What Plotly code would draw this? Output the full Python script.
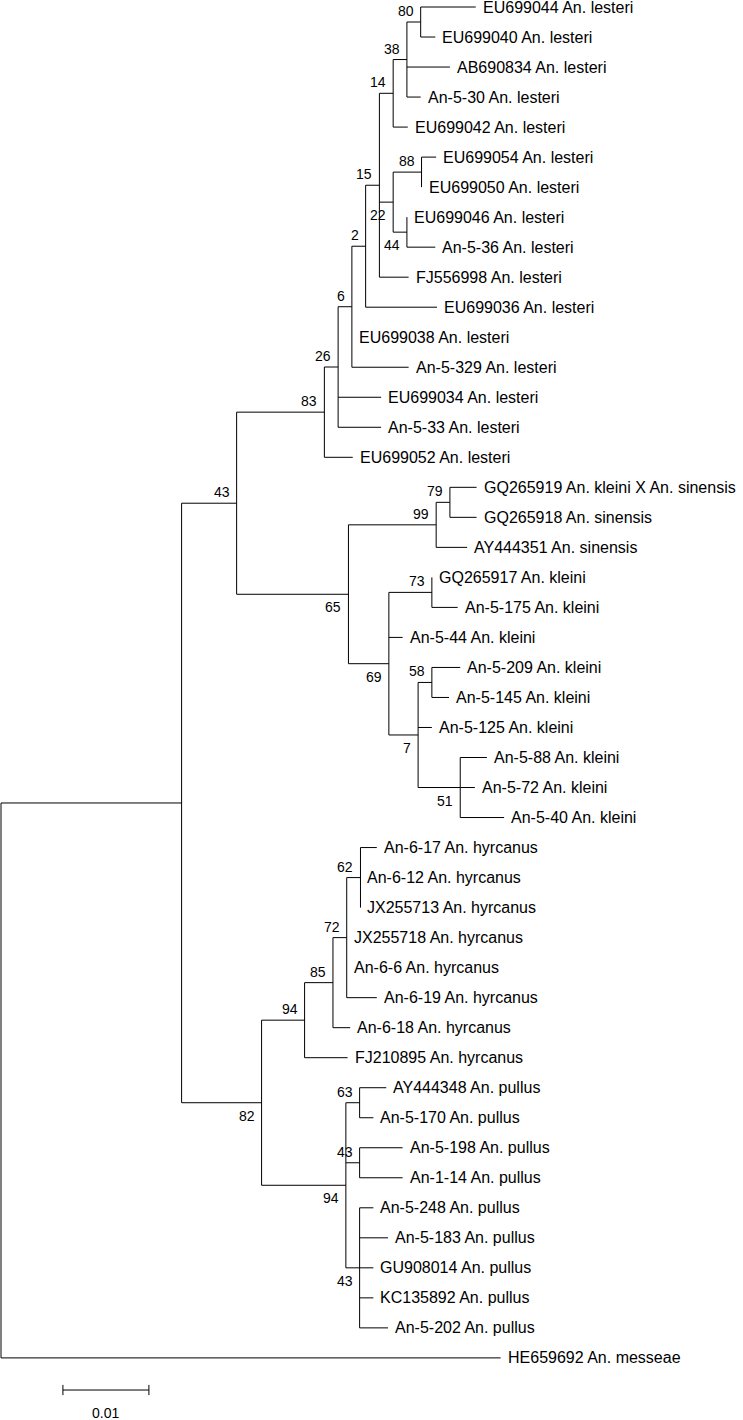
import plotly.graph_objects as go

# leaves, top to bottom
leaf_names = [
    'EU699044 An. lesteri', 'EU699040 An. lesteri', 'AB690834 An. lesteri', 'An-5-30 An. lesteri',
    'EU699042 An. lesteri', 'EU699054 An. lesteri', 'EU699050 An. lesteri', 'EU699046 An. lesteri',
    'An-5-36 An. lesteri', 'FJ556998 An. lesteri', 'EU699036 An. lesteri', 'EU699038 An. lesteri',
    'An-5-329 An. lesteri', 'EU699034 An. lesteri', 'An-5-33 An. lesteri', 'EU699052 An. lesteri',
    'GQ265919 An. kleini X An. sinensis', 'GQ265918 An. sinensis', 'AY444351 An. sinensis',
    'GQ265917 An. kleini', 'An-5-175 An. kleini', 'An-5-44 An. kleini', 'An-5-209 An. kleini',
    'An-5-145 An. kleini', 'An-5-125 An. kleini', 'An-5-88 An. kleini', 'An-5-72 An. kleini',
    'An-5-40 An. kleini', 'An-6-17 An. hyrcanus', 'An-6-12 An. hyrcanus', 'JX255713 An. hyrcanus',
    'JX255718 An. hyrcanus', 'An-6-6 An. hyrcanus', 'An-6-19 An. hyrcanus', 'An-6-18 An. hyrcanus',
    'FJ210895 An. hyrcanus', 'AY444348 An. pullus', 'An-5-170 An. pullus', 'An-5-198 An. pullus',
    'An-1-14 An. pullus', 'An-5-248 An. pullus', 'An-5-183 An. pullus', 'GU908014 An. pullus',
    'KC135892 An. pullus', 'An-5-202 An. pullus', 'HE659692 An. messeae',
]
leaf_parent = [
    'n80', 'n80', 'n38', 'n38', 'n14', 'n88', 'n88', 'n44', 'n44', 'g', 'f', 'e', 'e', 'd', 'd', 'c',
    'n79', 'n79', 'n99', 'n73', 'n73', 'n69', 'n58', 'n58', 'n7', 'n51', 'n51', 'n51',
    'n62', 'n62', 'n62', 'n72', 'n72', 'n72', 'n85', 'n94a',
    'n63', 'n63', 'n43a', 'n43a', 'n43b', 'n43b', 'n43b', 'n43b', 'n43b', 'root',
]
leaf_len = [
    0.0064, 0.0017, 0.0050, 0.0016, 0.0017, 0.0017, 0.0, 0.0, 0.0033, 0.0034, 0.0083, 0.0,
    0.0066, 0.0050, 0.0050, 0.0033, 0.0031, 0.0031, 0.0036, 0.0, 0.0030, 0.0016, 0.0033,
    0.0020, 0.0016, 0.0031, 0.0017, 0.0051, 0.0019, 0.0, 0.0, 0.0, 0.0, 0.0035, 0.0020,
    0.0050, 0.0031, 0.0016, 0.0050, 0.0050, 0.0016, 0.0033, 0.0016, 0.0016, 0.0033, 0.0581,
]

# internal nodes, parents before children
node_ids = ['root', 'a', 'b', 'c', 'd', 'e', 'f', 'g', 'n14', 'n38', 'n80', 'n22', 'n88', 'n44',
            'k', 'n99', 'n79', 'n69', 'n73', 'n7', 'n58', 'n51',
            'h', 'n94a', 'n85', 'n72', 'n62', 'n94b', 'n63', 'n43a', 'n43b']
node_parent = [None, 'root', 'a', 'b', 'c', 'd', 'e', 'f', 'g', 'n14', 'n38', 'g', 'n22', 'n22',
               'b', 'k', 'n99', 'k', 'n69', 'n69', 'n7', 'n7',
               'a', 'h', 'n94a', 'n85', 'n72', 'h', 'n94b', 'n94b', 'n94b']
node_len = [0.0, 0.0210, 0.0064, 0.0102, 0.0016, 0.0016, 0.0016, 0.0016, 0.0016, 0.0016, 0.0016,
            0.0016, 0.0033, 0.0016, 0.0130, 0.0102, 0.0016, 0.0047, 0.0050, 0.0034, 0.0016, 0.0049,
            0.0093, 0.0050, 0.0033, 0.0016, 0.0016, 0.0098, 0.0016, 0.0016, 0.0016]
node_support = ['', '', '43', '83', '26', '6', '2', '15', '14', '38', '80', '22', '88', '44',
                '65', '99', '79', '69', '73', '7', '58', '51',
                '82', '94', '85', '72', '62', '94', '63', '43', '43']

scale_x0 = 0.0072
scale_len = 0.01
scale_label = '0.01'

FONT = 'Liberation Sans, Arial, sans-serif'

# node depths
nx = {}
for nid, par, bl in zip(node_ids, node_parent, node_len):
    nx[nid] = (nx[par] if par else 0.0) + bl

leaf_x = [nx[p] + bl for p, bl in zip(leaf_parent, leaf_len)]
leaf_y = list(range(len(leaf_names)))

# node y = middle of first and last child
kids = {nid: [] for nid in node_ids}
for y, p in zip(leaf_y, leaf_parent):
    kids[p].append(y)
ny = {}
for nid, par in reversed(list(zip(node_ids, node_parent))):
    ny[nid] = (min(kids[nid]) + max(kids[nid])) / 2
    if par:
        kids[par].append(ny[nid])

xs, ys = [], []
# vertical lines at nodes
for nid in node_ids:
    xs += [nx[nid], nx[nid], None]
    ys += [min(kids[nid]), max(kids[nid]), None]
# horizontal branches to nodes
for nid, par in zip(node_ids, node_parent):
    if par:
        xs += [nx[par], nx[nid], None]
        ys += [ny[nid], ny[nid], None]
# horizontal branches to leaves
for p, x, y in zip(leaf_parent, leaf_x, leaf_y):
    if x > nx[p]:
        xs += [nx[p], x, None]
        ys += [y, y, None]

fig = go.Figure()
fig.add_trace(go.Scatter(x=xs, y=ys, mode='lines', line=dict(color='black', width=1),
                         hoverinfo='skip', showlegend=False))

# scale bar
sb_y = 46.07
tick = 0.17
fig.add_trace(go.Scatter(
    x=[scale_x0, scale_x0 + scale_len, None, scale_x0, scale_x0, None,
       scale_x0 + scale_len, scale_x0 + scale_len],
    y=[sb_y, sb_y, None, sb_y - tick, sb_y + tick, None, sb_y - tick, sb_y + tick],
    mode='lines', line=dict(color='black', width=1), hoverinfo='skip', showlegend=False))

annotations = []
for name, x, y in zip(leaf_names, leaf_x, leaf_y):
    annotations.append(dict(x=x, y=y, text=name, showarrow=False, xanchor='left', yanchor='middle',
                            xshift=5, font=dict(family=FONT, size=16, color='black')))

parent_y = {nid: (ny[p] if p else None) for nid, p in zip(node_ids, node_parent)}
for nid, lab in zip(node_ids, node_support):
    if not lab:
        continue
    below = ny[nid] > parent_y[nid]
    annotations.append(dict(x=nx[nid], y=ny[nid], text=lab, showarrow=False, xanchor='right',
                            yanchor='middle', xshift=-5, yshift=-13 if below else 11,
                            font=dict(family=FONT, size=14, color='black')))

annotations.append(dict(x=scale_x0 + scale_len / 2, y=sb_y, text=scale_label, showarrow=False,
                        xanchor='center', yanchor='middle', yshift=-23,
                        font=dict(family=FONT, size=14, color='black')))

px_per_unit = 8600
fig.update_layout(
    width=743, height=1420,
    margin=dict(l=0, r=0, t=0, b=0),
    paper_bgcolor='white', plot_bgcolor='white',
    xaxis=dict(range=[-1 / px_per_unit, 742 / px_per_unit], visible=False),
    yaxis=dict(range=[(1420 - 7) / 30.02, -7 / 30.02], visible=False),
    annotations=annotations,
    showlegend=False,
)

# drop the default page margin so the figure sits at the window's corner
fig.write_html('out.html', config={'displayModeBar': False},
               post_script="document.body.style.margin='0';")
